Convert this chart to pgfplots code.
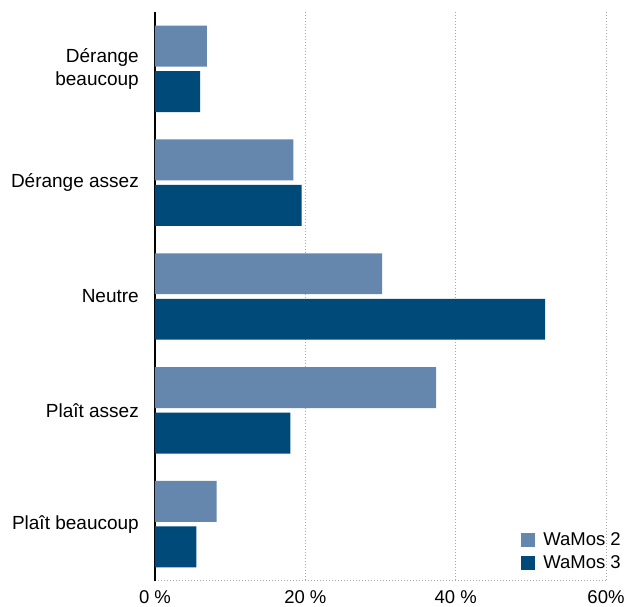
\documentclass[border=0pt]{standalone}
\usepackage{fontspec}
\setmainfont{Liberation Sans}
\usepackage{pgfplots}
\pgfplotsset{compat=1.18}
\definecolor{wamosA}{HTML}{6586AD}
\definecolor{wamosB}{HTML}{004A7A}
\begin{document}
\fontsize{18}{21}\selectfont
\begin{tikzpicture}
\begin{axis}[
  scale only axis, width=451pt, height=569pt,
  xmin=0, xmax=60, ymin=-0.5, ymax=4.5, y dir=reverse,
  xbar, bar width=0.36,
  axis x line*=bottom, axis y line*=left,
  x axis line style={gray!70, line width=1pt, dash pattern=on 1pt off 2pt},
  y axis line style={black, line width=2.5pt},
  xmajorgrids, grid style={gray!70, line width=1pt, dash pattern=on 1pt off 2pt},
  major tick length=0pt,
  xtick={0,20,40,60}, xticklabels={{0 \%},{20 \%},{40 \%},{60\%}},
  ytick={0,...,4},
  yticklabels={{Dérange\\beaucoup},{Dérange assez},{Neutre},{Plaît assez},{Plaît beaucoup}},
  yticklabel style={align=right, xshift=-10pt, font=\fontsize{19}{23}\selectfont},
  xticklabel style={yshift=-3pt, font=\fontsize{18.5}{21}\selectfont},
  /pgf/number format/assume math mode=true,
  legend style={at={(1,0)}, anchor=south east, xshift=20pt, yshift=6pt,
    draw=none, fill=none, row sep=3pt, font=\fontsize{18.5}{21}\selectfont},
  legend cell align=left,
  legend image code/.code={\fill[#1] (0pt,-7pt) rectangle (14pt,7pt); \path (20pt,0pt);},
]
\addplot[fill=wamosA, draw=none, bar shift=-0.2] coordinates {
  (6.9,0) (18.4,1) (30.2,2) (37.4,3) (8.2,4)};
\addplot[fill=wamosB, draw=none, bar shift=0.2] coordinates {
  (6.0,0) (19.5,1) (51.9,2) (18.0,3) (5.5,4)};
\legend{WaMos 2, WaMos 3}
\end{axis}
\pgfresetboundingbox
\path ([shift={(-155pt,-26pt)}]current axis.south west) rectangle ([shift={(22pt,12pt)}]current axis.north east);
\end{tikzpicture}
\end{document}
